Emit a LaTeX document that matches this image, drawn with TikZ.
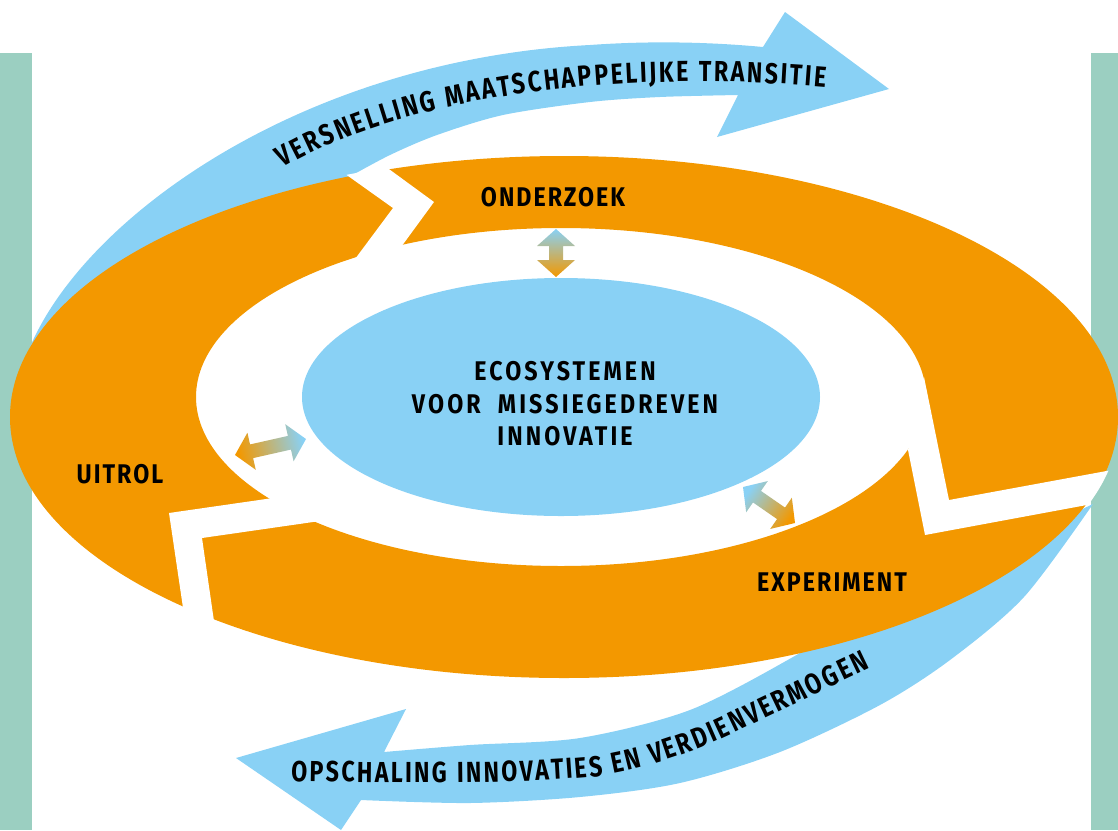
\documentclass[tikz,border=0pt]{standalone}
\usepackage{fontspec}
\setmainfont{Fira Sans}
\newfontfamily\lblfont{Fira Sans}[FakeStretch=0.86, LetterSpace=7.5]
\newfontfamily\ctrfont{Fira Sans}[FakeStretch=0.86, LetterSpace=11.5]
\newfontfamily\curvefont{Fira Sans}[FakeStretch=0.8]
\usetikzlibrary{calc,decorations.text,shapes.geometric}
\definecolor{ringorange}{HTML}{F39800}
\definecolor{skyblue}{HTML}{89D1F5}
\definecolor{barteal}{HTML}{9BCFC1}
\tikzset{
  lbl/.style={font=\lblfont\bfseries\fontsize{27}{32.5}\selectfont, text=black, inner sep=0pt, align=center},
  ctrlbl/.style={font=\ctrfont\bfseries\fontsize{27}{32.5}\selectfont, text=black, inner sep=0pt, align=center},
  band/.style={fill=skyblue},
  ringfill/.style={fill=ringorange},
  gapfill/.style={fill=white},
}
\newcommand{\dblarrow}[3]{%
  \shade[top color=skyblue, bottom color=ringorange, shading angle=#3]
  (#1) -- ($(#1)!17pt!(#2)!19pt!90:(#2)$) -- ($(#1)!17pt!(#2)!7pt!90:(#2)$)
  -- ($(#2)!17pt!(#1)!7pt!-90:(#1)$) -- ($(#2)!17pt!(#1)!19pt!-90:(#1)$)
  -- (#2) -- ($(#2)!17pt!(#1)!19pt!90:(#1)$) -- ($(#2)!17pt!(#1)!7pt!90:(#1)$)
  -- ($(#1)!17pt!(#2)!7pt!-90:(#2)$) -- ($(#1)!17pt!(#2)!19pt!-90:(#2)$) -- cycle;}
\begin{document}
\begin{tikzpicture}[x=1pt,y=-1pt]
\useasboundingbox (0,0) rectangle (1118,830);
\clip (0,0) rectangle (1118,830);
% side bars
\fill[barteal] (0,53) rectangle (32,830);
\fill[barteal] (1091,53) rectangle (1118,830);
% top blue arrow
\fill[band] (28,352) .. controls (80,220) and (300,60) .. (590,45)
  .. controls (660,40) and (720,43) .. (763,47)
  -- (785,12) -- (889,89) -- (717,137) -- (738,95)
  -- plot[smooth] coordinates {(738,95) (660,97) (590,102) (503,115) (437,135) (390,155) (349,177)}
  -- (200,260) -- cycle;
% bottom blue arrow
\fill[band] plot[smooth] coordinates {(1093,504) (1024,597) (950,660) (880,705) (780,752) (680,783) (580,797) (470,803) (361,800)}
  -- (341,830) -- (236,758) -- (406,709) -- (384,752)
  -- plot[smooth] coordinates {(384,752) (470,745) (580,738) (690,710) (793,657) (850,620)}
  -- cycle;
% orange ring
\fill[ringfill, even odd rule] (564,417) ellipse [x radius=554, y radius=261]
  (561,397) ellipse [x radius=365, y radius=169];
% gaps between the three segments
\begin{scope}
\clip (564,417) ellipse [x radius=556, y radius=263];
\fill[gapfill] (327,161) -- (393,208) -- (358,255) -- (349,267) -- (395,255) -- (404,243) -- (434,202) -- (367,153) -- cycle;
\fill[gapfill] (924,377) -- (949,500) -- (1150,463) -- (1130,497) -- (925,535) -- (908,450) -- cycle;
\fill[gapfill] (280,497) -- (169,513) -- (186,628) -- (217,642) -- (202,538) -- (327,520) -- cycle;
\end{scope}
% inner ellipse
\node[ellipse, fill=skyblue, minimum width=518pt, minimum height=238pt, inner sep=0pt] (eco) at (561,397) {};
\node[ctrlbl] (ecotext) at (565,404) {ECOSYSTEMEN\\VOOR\ \ MISSIEGEDREVEN\\INNOVATIE};
% segment labels
\node[lbl] (onderzoek) at (553,197) {ONDERZOEK};
\node[lbl] (uitrol) at (120,474) {UITROL};
\node[lbl] (experiment) at (832,582) {EXPERIMENT};
% double arrows
\coordinate (ta) at (556,229); \coordinate (tb) at (556,277);
\coordinate (la) at (306,439); \coordinate (lb) at (235,455);
\coordinate (ra) at (743,487); \coordinate (rb) at (795,523);
\dblarrow{ta}{tb}{0}
\dblarrow{la}{lb}{-77}
\dblarrow{ra}{rb}{55}
% curved texts
\path[decorate, decoration={text along path, text align={fit to path},
  text={|\curvefont\bfseries\fontsize{29}{30}\selectfont|VERSNELLING MAATSCHAPPELIJKE TRANSITIE}}]
  (283,168) .. controls (400,100) and (600,68) .. (825,87);
\path[decorate, decoration={text along path, text align={fit to path},
  text={|\curvefont\bfseries\fontsize{29}{30}\selectfont|OPSCHALING INNOVATIES EN VERDIENVERMOGEN}}]
  (291,781) .. controls (420,784) and (540,783) .. (600,776) .. controls (650,768) and (700,750) .. (740,730) -- (870,668);
\end{tikzpicture}
\end{document}
